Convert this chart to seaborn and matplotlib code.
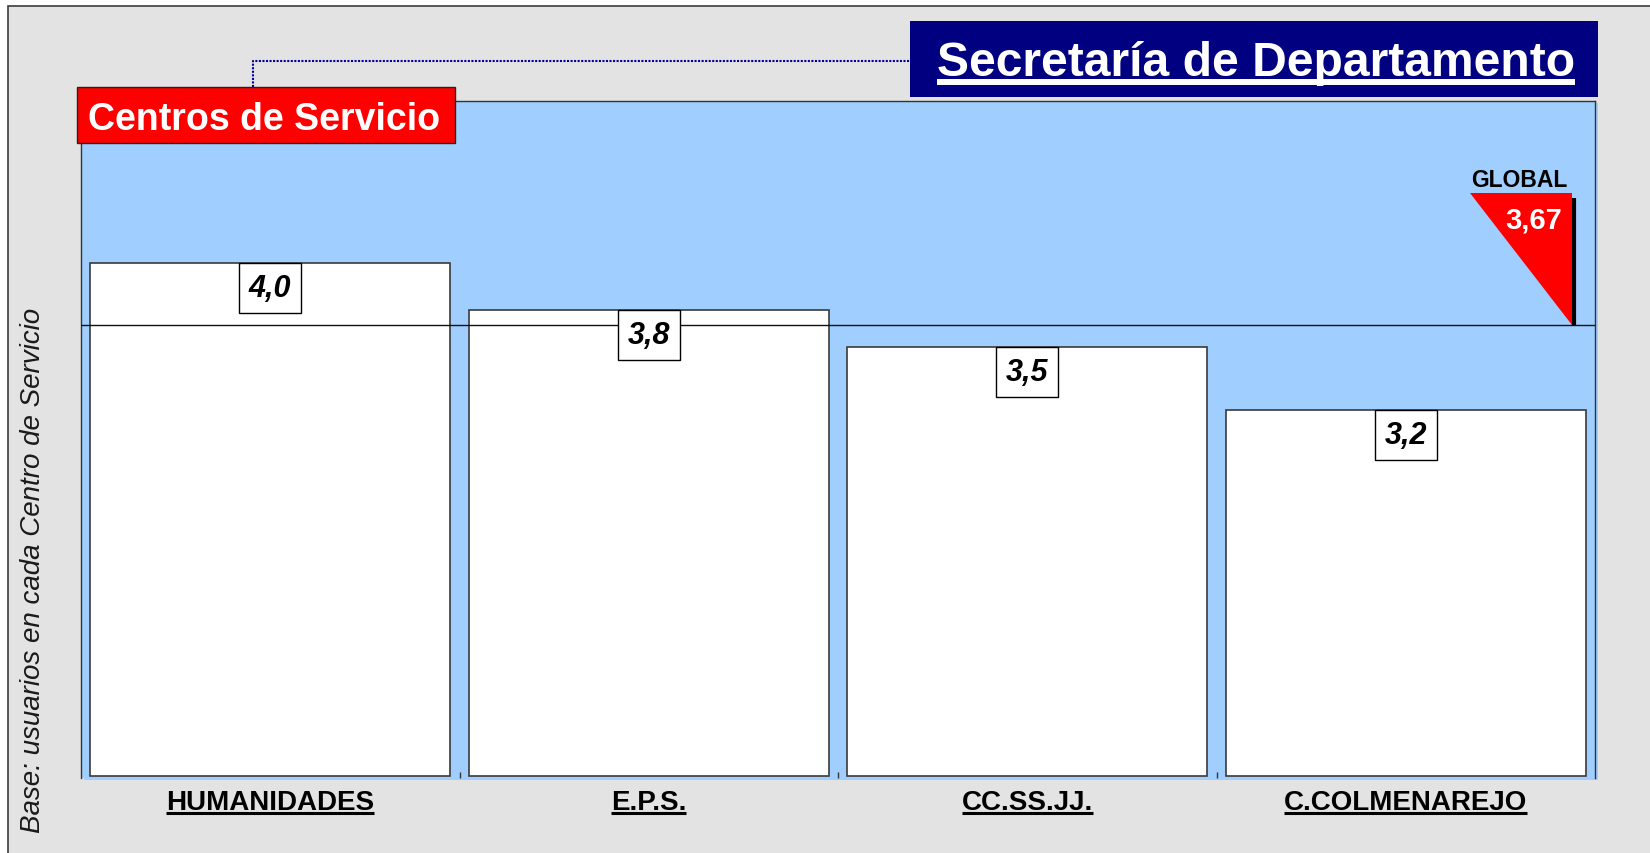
import matplotlib
matplotlib.use("Agg")
import matplotlib.pyplot as plt
import seaborn as sns
import pandas as pd
from matplotlib.patches import Rectangle, Polygon
from matplotlib.lines import Line2D
from matplotlib.transforms import blended_transform_factory

# ---------------- data ----------------
categories = ["HUMANIDADES", "E.P.S.", "CC.SS.JJ.", "C.COLMENAREJO"]
values = [4.04, 3.76, 3.54, 3.17]
global_value = 3.67
global_label = "GLOBAL"
title = "Secretaría de Departamento"
subtitle = "Centros de Servicio"
ylabel = "Base: usuarios en cada Centro de Servicio"
y_min, y_max = 1, 5

# ---------------- setup ----------------
W, H = 1650, 854
sns.set_theme(style="white")
plt.rcParams["font.family"] = ["Liberation Sans", "DejaVu Sans"]

BLUE = "#a0cfff"
GRAY = "#e3e3e3"

fig = plt.figure(figsize=(W / 100, H / 100), dpi=100)
fig.patch.set_facecolor("white")


def fx(x):
    return x / W


def fy(y):
    return 1 - y / H


# outer gray panel
fig.add_artist(Rectangle((fx(8), -0.1), 1.2, fy(7) + 0.1, transform=fig.transFigure,
                         facecolor=GRAY, edgecolor="#3c3c3c", lw=1.2, zorder=-3))

# plot area (pixels: x 81..1595, y 102..779)
ax_l, ax_r, ax_t, ax_b = 81, 1595, 102, 779
fig.add_artist(Rectangle((fx(ax_l + 3), fy(ax_b + 2)), (ax_r - ax_l) / W, (ax_b - ax_t) / H,
                         transform=fig.transFigure, facecolor=BLUE, edgecolor="none", zorder=-2))
ax = fig.add_axes([fx(ax_l), fy(ax_b), (ax_r - ax_l) / W, (ax_b - ax_t) / H])
ax.set_facecolor(BLUE)

df = pd.DataFrame({"centro": categories, "valor": values})
sns.barplot(data=df, x="centro", y="valor", color="white", saturation=1,
            edgecolor="#3a3a3a", linewidth=1.2, width=0.95, ax=ax)
for p in ax.patches:
    h = p.get_height()
    p.set_y(y_min)
    p.set_height(h - y_min)

px_per_unit = 675 / (y_max - y_min)
ax.set_ylim(y_min - 2 / px_per_unit, y_max)
ax.set_xlim(-0.5, len(categories) - 0.5)
ax.set_xlabel("")
ax.set_ylabel("")
ax.set_yticks([])
ax.set_xticks([])
ax.set_xticks([i + 0.5 for i in range(len(categories) - 1)], minor=True)
ax.tick_params(axis="x", which="minor", length=4, direction="in", color="#333333",
               bottom=True, labelbottom=False)
for s in ["top", "left", "right"]:
    ax.spines[s].set_color("#333333")
    ax.spines[s].set_linewidth(1.0)
ax.spines["bottom"].set_visible(False)

slot_px = (ax_r - ax_l) / len(categories)

# global line
ax.axhline(global_value, color="#111111", lw=1.0, zorder=3)

# value boxes
bw = 62 / slot_px
bh = 50 / px_per_unit
for i, v in enumerate(values):
    ax.add_patch(Rectangle((i - bw / 2, v - bh), bw, bh, facecolor="white",
                           edgecolor="black", lw=1.0, zorder=4))
    ax.text(i, v - bh / 2, f"{v:.1f}".replace(".", ","), ha="center", va="center",
            fontsize=22, fontweight="bold", style="italic", color="black", zorder=5)

# GLOBAL triangle
x_tip = -0.5 + len(categories) * ((1572 - ax_l) / (ax_r - ax_l))
x_left = x_tip - 102 / slot_px
y_top = global_value + 132 / px_per_unit
ax.add_line(Line2D([x_tip + 2 / slot_px] * 2, [y_top - 5 / px_per_unit, global_value],
                   color="black", lw=3, zorder=5, solid_capstyle="butt"))
ax.add_patch(Polygon([(x_left, y_top), (x_tip, y_top), (x_tip, global_value)],
                     closed=True, facecolor="#ff0000", edgecolor="none", zorder=6))
ax.text((x_left + x_tip) / 2 - 2 / slot_px, y_top + 7 / px_per_unit, global_label,
        ha="center", va="baseline", fontsize=16.5, fontweight="bold", color="black", zorder=7)
ax.text(x_tip - 10 / slot_px, y_top - 34 / px_per_unit,
        f"{global_value:.2f}".replace(".", ","), ha="right", va="baseline",
        fontsize=21, fontweight="bold", color="white", zorder=7)

# category labels (underlined)
trans = blended_transform_factory(ax.transData, fig.transFigure)
cat_texts = []
for i, c in enumerate(categories):
    cat_texts.append(fig.text(i, fy(810), c, transform=trans, ha="center", va="baseline",
                              fontsize=20, fontweight="bold", color="black"))

# y label
fig.text(fx(33.5), fy(570.5), ylabel, rotation=90, ha="center", va="center",
         fontsize=20, style="italic", color="#1a1a1a")

# title box
fig.add_artist(Rectangle((fx(910), fy(98)), (1598 - 910) / W, (98 - 22) / H,
                         transform=fig.transFigure, facecolor="#000080", edgecolor="none", zorder=5))
title_t = fig.text(fx(937), fy(76), title, ha="left", va="baseline", fontsize=34.6,
                   fontweight="bold", color="white", zorder=6)

# dotted connector
fig.add_artist(Line2D([fx(252.6), fx(252.6), fx(910)], [fy(88), fy(62), fy(62)],
                      transform=fig.transFigure, color="#000099", lw=1.5,
                      linestyle=(0, (1, 0.7)), zorder=4))

# subtitle red box
fig.add_artist(Rectangle((fx(76.5), fy(144)), (455 - 76.5) / W, (144 - 88) / H,
                         transform=fig.transFigure, facecolor="#ff0000", edgecolor="#222222",
                         lw=1.0, zorder=5))
fig.text(fx(88), fy(130), subtitle, ha="left", va="baseline", fontsize=27,
         fontweight="bold", color="white", zorder=6)

# underlines
fig.canvas.draw()
r = fig.canvas.get_renderer()
bb = title_t.get_window_extent(r)
fig.add_artist(Line2D([bb.x0 / W, bb.x1 / W], [fy(82.5)] * 2, transform=fig.transFigure,
                      color="white", lw=4.3, solid_capstyle="butt", zorder=6))
for t in cat_texts:
    bb = t.get_window_extent(r)
    fig.add_artist(Line2D([bb.x0 / W, bb.x1 / W], [fy(813.5)] * 2, transform=fig.transFigure,
                          color="black", lw=2.2, solid_capstyle="butt", zorder=6))

fig.savefig("out.png", dpi=100)
